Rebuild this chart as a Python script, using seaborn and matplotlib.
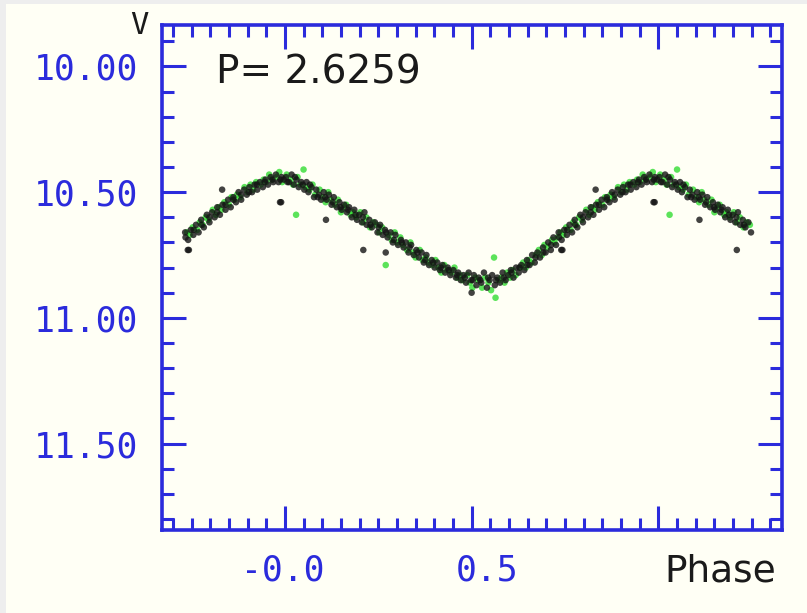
import numpy as np
import pandas as pd
import matplotlib
matplotlib.use("Agg")
import matplotlib.pyplot as plt
from matplotlib.patches import Rectangle
from matplotlib.ticker import MultipleLocator, FixedLocator
import seaborn as sns

# ---- data (phase in [0,1), V magnitude) ----
black_phase = [0.003, 0.011, 0.018, 0.024, 0.031, 0.037, 0.044, 0.052, 0.058, 0.063,
               0.071, 0.078, 0.084, 0.091, 0.097, 0.104, 0.112, 0.118, 0.125, 0.131,
               0.139, 0.146, 0.152, 0.159, 0.166, 0.172, 0.179, 0.186, 0.193, 0.199,
               0.206, 0.213, 0.219, 0.226, 0.233, 0.241, 0.248, 0.255, 0.262, 0.268,
               0.275, 0.283, 0.289, 0.296, 0.303, 0.311, 0.318, 0.324, 0.331, 0.338,
               0.345, 0.352, 0.359, 0.366, 0.372, 0.379, 0.386, 0.393, 0.401, 0.408,
               0.415, 0.422, 0.429, 0.436, 0.443, 0.451, 0.458, 0.464, 0.471, 0.478,
               0.485, 0.492, 0.499, 0.506, 0.513, 0.519, 0.526, 0.533, 0.541, 0.548,
               0.555, 0.562, 0.569, 0.576, 0.583, 0.591, 0.598, 0.605, 0.612, 0.619,
               0.626, 0.633, 0.641, 0.648, 0.655, 0.662, 0.669, 0.676, 0.683, 0.691,
               0.698, 0.705, 0.712, 0.719, 0.726, 0.733, 0.741, 0.748, 0.755, 0.762,
               0.769, 0.776, 0.783, 0.791, 0.798, 0.805, 0.812, 0.819, 0.826, 0.833,
               0.841, 0.848, 0.855, 0.862, 0.869, 0.876, 0.883, 0.891, 0.898, 0.905,
               0.912, 0.919, 0.926, 0.933, 0.941, 0.948, 0.955, 0.962, 0.969, 0.976,
               0.983, 0.991, 0.997,
               0.007, 0.027, 0.048, 0.067, 0.088, 0.108, 0.128, 0.149, 0.169, 0.189,
               0.209, 0.229, 0.251, 0.271, 0.292, 0.313, 0.334, 0.355, 0.376, 0.397,
               0.418, 0.439, 0.461, 0.482, 0.503, 0.523, 0.544, 0.565, 0.586, 0.607,
               0.628, 0.649, 0.671, 0.692, 0.713, 0.734, 0.756, 0.777, 0.798, 0.819,
               0.841, 0.862, 0.883, 0.904, 0.925, 0.946, 0.967, 0.988,
               0.832, 0.987, 0.743, 0.210, 0.990, 0.110, 0.270, 0.500, 0.740]
black_mag = [10.44, 10.46, 10.43, 10.47, 10.45, 10.48, 10.46, 10.49, 10.46, 10.50,
             10.48, 10.52, 10.49, 10.51, 10.53, 10.50, 10.53, 10.51, 10.55, 10.52,
             10.56, 10.54, 10.57, 10.55, 10.58, 10.56, 10.60, 10.57, 10.61, 10.59,
             10.62, 10.58, 10.63, 10.61, 10.64, 10.62, 10.66, 10.63, 10.67, 10.65,
             10.68, 10.66, 10.70, 10.67, 10.71, 10.69, 10.72, 10.70, 10.74, 10.71,
             10.75, 10.73, 10.76, 10.74, 10.78, 10.75, 10.79, 10.77, 10.80, 10.78,
             10.81, 10.79, 10.82, 10.80, 10.83, 10.81, 10.84, 10.82, 10.85, 10.83,
             10.86, 10.82, 10.85, 10.83, 10.87, 10.84, 10.86, 10.82, 10.88, 10.85,
             10.83, 10.87, 10.84, 10.86, 10.82, 10.85, 10.83, 10.81, 10.84, 10.80,
             10.82, 10.79, 10.81, 10.77, 10.79, 10.75, 10.78, 10.74, 10.76, 10.72,
             10.74, 10.70, 10.73, 10.68, 10.71, 10.66, 10.69, 10.65, 10.67, 10.63,
             10.66, 10.61, 10.64, 10.59, 10.62, 10.58, 10.60, 10.56, 10.59, 10.55,
             10.57, 10.53, 10.56, 10.52, 10.54, 10.50, 10.53, 10.49, 10.51, 10.48,
             10.50, 10.47, 10.49, 10.46, 10.48, 10.45, 10.47, 10.44, 10.46, 10.43,
             10.46, 10.44, 10.45,
             10.46, 10.44, 10.47, 10.47, 10.52, 10.52, 10.54, 10.56, 10.57, 10.59,
             10.60, 10.63, 10.64, 10.66, 10.69, 10.70, 10.72, 10.74, 10.77, 10.78,
             10.80, 10.81, 10.83, 10.84, 10.85, 10.85, 10.84, 10.85, 10.84, 10.82,
             10.80, 10.79, 10.76, 10.74, 10.71, 10.68, 10.65, 10.63, 10.60, 10.58,
             10.55, 10.53, 10.51, 10.50, 10.47, 10.46, 10.45, 10.45,
             10.49, 10.54, 10.73, 10.73, 10.54, 10.61, 10.74, 10.90, 10.73]

green_phase = [0.005, 0.015, 0.022, 0.034, 0.041, 0.050, 0.055, 0.066, 0.074, 0.081,
               0.093, 0.101, 0.109, 0.116, 0.123, 0.134, 0.142, 0.150, 0.157, 0.164,
               0.176, 0.183, 0.191, 0.202, 0.210, 0.218, 0.228, 0.236, 0.245, 0.253,
               0.260, 0.270, 0.278, 0.286, 0.294, 0.301, 0.309, 0.316, 0.327, 0.336,
               0.343, 0.350, 0.361, 0.369, 0.377, 0.384, 0.395, 0.403, 0.411, 0.419,
               0.427, 0.434, 0.446, 0.454, 0.462, 0.469, 0.476, 0.488, 0.495, 0.502,
               0.510, 0.517, 0.528, 0.536, 0.545, 0.552, 0.560, 0.564, 0.572, 0.580,
               0.588, 0.595, 0.603, 0.610, 0.618, 0.630, 0.638, 0.645, 0.653, 0.660,
               0.672, 0.680, 0.688, 0.695, 0.703, 0.715, 0.722, 0.730, 0.738, 0.745,
               0.753, 0.765, 0.772, 0.780, 0.788, 0.795, 0.807, 0.815, 0.823, 0.830,
               0.838, 0.850, 0.857, 0.865, 0.872, 0.880, 0.892, 0.900, 0.908, 0.915,
               0.923, 0.935, 0.943, 0.950, 0.958, 0.965, 0.978, 0.985, 0.993, 0.030]
green_mag = [10.43, 10.45, 10.47, 10.44, 10.47, 10.41, 10.48, 10.49, 10.47, 10.51,
             10.49, 10.52, 10.54, 10.50, 10.53, 10.55, 10.53, 10.58, 10.56, 10.55,
             10.59, 10.58, 10.60, 10.58, 10.62, 10.60, 10.64, 10.62, 10.63, 10.66,
             10.64, 10.79, 10.67, 10.69, 10.66, 10.70, 10.68, 10.71, 10.73, 10.70,
             10.74, 10.76, 10.73, 10.77, 10.76, 10.78, 10.79, 10.77, 10.80, 10.82,
             10.79, 10.81, 10.82, 10.80, 10.84, 10.83, 10.85, 10.83, 10.86, 10.88,
             10.84, 10.85, 10.88, 10.84, 10.86, 10.89, 10.76, 10.92, 10.85, 10.84,
             10.86, 10.82, 10.84, 10.81, 10.83, 10.80, 10.78, 10.80, 10.77, 10.78,
             10.75, 10.73, 10.75, 10.71, 10.72, 10.69, 10.70, 10.68, 10.66, 10.67,
             10.64, 10.65, 10.62, 10.63, 10.60, 10.61, 10.57, 10.59, 10.56, 10.57,
             10.54, 10.55, 10.52, 10.53, 10.51, 10.52, 10.48, 10.50, 10.47, 10.49,
             10.46, 10.47, 10.45, 10.46, 10.43, 10.45, 10.44, 10.42, 10.46, 10.59]

period_text = "P= 2.6259"
y_ticks = [10.0, 10.5, 11.0, 11.5]
y_ticklabels = ["10.00", "10.50", "11.00", "11.50"]
x_ticklabels = ["-0.0", "0.5"]
x_label = "Phase"
y_label = "V"

# ---- build frame, showing phases -0.27 .. 1.25 as usual for a folded curve ----
def folded(phase, mag, name):
    ph = np.asarray(phase)
    mg = np.asarray(mag)
    lo = ph > 0.73
    hi = ph < 0.25
    return pd.DataFrame({
        "phase": np.concatenate([ph, ph[lo] - 1.0, ph[hi] + 1.0]),
        "mag": np.concatenate([mg, mg[lo], mg[hi]]),
        "set": name,
    })

df = pd.concat([folded(green_phase, green_mag, "green"),
                folded(black_phase, black_mag, "black")], ignore_index=True)

sns.set_style("white")
plt.rcParams["font.family"] = ["DejaVu Sans"]

BLUE = "#2b2bdc"
BG = "#fffff5"

fig = plt.figure(figsize=(8.07, 6.13), dpi=100, facecolor=BG)
# light grey frame strips at the left and top edges
fig.add_artist(Rectangle((0, 0), 6 / 807, 1, transform=fig.transFigure,
                         facecolor="#eeeeee", edgecolor="none", zorder=0))
fig.add_artist(Rectangle((0, 1 - 4 / 613), 1, 4 / 613, transform=fig.transFigure,
                         facecolor="#eeeeee", edgecolor="none", zorder=0))

ax = fig.add_axes([162 / 807, 1 - 530 / 613, 620 / 807, 505 / 613])
ax.set_facecolor(BG)

sns.scatterplot(data=df, x="phase", y="mag", hue="set",
                palette={"green": "#33dd33", "black": "#141414"},
                s=22, linewidth=0, alpha=0.8, legend=False, ax=ax)

ax.set_xlim(-0.329, 1.331)
ax.set_ylim(11.844, 9.835)

ax.xaxis.set_major_locator(FixedLocator([0.0, 0.5, 1.0]))
ax.xaxis.set_minor_locator(MultipleLocator(0.05))
ax.yaxis.set_major_locator(FixedLocator(y_ticks))
ax.yaxis.set_minor_locator(MultipleLocator(0.1))
ax.set_yticklabels(y_ticklabels)
ax.set_xticklabels([])

ax.tick_params(which="both", direction="in", top=True, right=True,
               bottom=True, left=True, color=BLUE, labelcolor=BLUE)
ax.tick_params(which="major", length=17, width=2.2)
ax.tick_params(which="minor", length=8.5, width=2.2)
ax.tick_params(axis="y", which="major", pad=17, labelsize=25)
for lab in ax.get_yticklabels():
    lab.set_fontfamily("DejaVu Sans Mono")

for sp in ax.spines.values():
    sp.set_color(BLUE)
    sp.set_linewidth(2.6)

ax.set_xlabel("")
ax.set_ylabel("")

xt = ax.get_xaxis_transform()
ax.text(-0.005, -0.046, x_ticklabels[0], transform=xt, ha="center", va="top",
        color=BLUE, fontsize=25, family="DejaVu Sans Mono")
ax.text(0.541, -0.046, x_ticklabels[1], transform=xt, ha="center", va="top",
        color=BLUE, fontsize=25, family="DejaVu Sans Mono")
ax.text(1.015, -0.046, x_label, transform=xt, ha="left", va="top",
        color="#1a1a1a", fontsize=27, family="DejaVu Sans")

fig.text(139 / 807, 1 - 26 / 613, y_label, ha="center", va="center",
         color="#1a1a1a", fontsize=22, family="DejaVu Sans Mono")
ax.text(216 / 807, 1 - 73 / 613, period_text, transform=fig.transFigure,
        ha="left", va="center", color="#1a1a1a", fontsize=28, family="DejaVu Sans")

fig.savefig("out.png", dpi=100, facecolor=BG)
